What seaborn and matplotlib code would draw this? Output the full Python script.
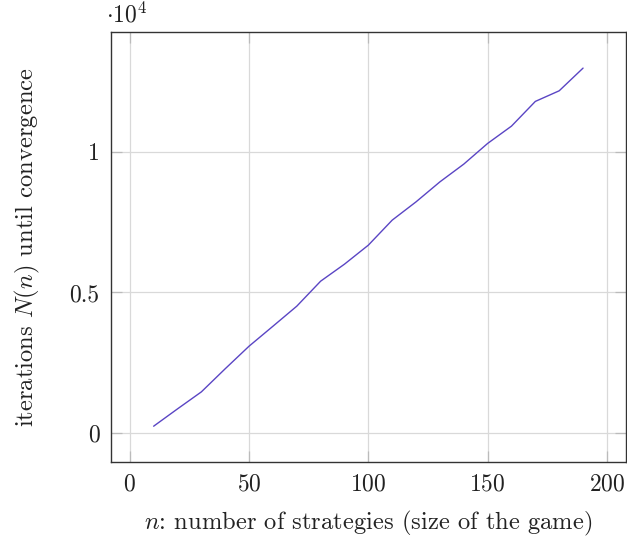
import numpy as np
import pandas as pd
import seaborn as sns
import matplotlib.pyplot as plt
from matplotlib.ticker import FixedLocator, FuncFormatter

# values
n_values = [10, 20, 30, 40, 50, 60, 70, 80, 90, 100,
            110, 120, 130, 140, 150, 160, 170, 180, 190]
iterations = [249, 864, 1468, 2290, 3092, 3800, 4513, 5401, 6006, 6681,
              7570, 8220, 8930, 9560, 10295, 10910, 11788, 12165, 12971]
x_ticks = [0, 50, 100, 150, 200]
y_ticks = [0, 5000, 10000]
y_tick_labels = ["0", "0.5", "1"]

sns.set_style("whitegrid")
plt.rcParams["font.family"] = ["serif"]
plt.rcParams["font.serif"] = ["cmr10", "DejaVu Serif"]
plt.rcParams["mathtext.fontset"] = "cm"
plt.rcParams["axes.formatter.use_mathtext"] = True

FS = 17
LABEL_FS = 17.7


def _format_ax(ax):
  ax.set_xlim(-8, 208)
  ax.set_ylim(-1023, 14243)
  ax.xaxis.set_major_locator(FixedLocator(x_ticks))
  ax.yaxis.set_major_locator(FixedLocator(y_ticks))
  ax.yaxis.set_major_formatter(FuncFormatter(lambda v, p: y_tick_labels[y_ticks.index(int(round(v)))] if int(round(v)) in y_ticks else ""))
  ax.grid(True, color="#d9d9d9", linewidth=0.9)
  for s in ax.spines.values():
    s.set_color("#333333")
    s.set_linewidth(1.0)
  ax.tick_params(axis="both", which="major", direction="in", length=8, width=0.9,
                 color="#bbbbbb", labelsize=FS, labelcolor="#222222",
                 top=True, right=True, bottom=True, left=True)
  ax.tick_params(axis="x", pad=8)
  ax.tick_params(axis="y", pad=8)
  return ax


def main():
  data = pd.DataFrame({"n": n_values, "N": iterations})

  fig = plt.figure(figsize=(6.27, 5.39), dpi=100)
  ax = fig.add_axes([110.7 / 627, 1 - 462 / 539, (626 - 110.7) / 627, (462 - 32.3) / 539])
  sns.lineplot(data=data, x="n", y="N", ax=ax, color="#5a45c4", linewidth=1.0)
  _format_ax(ax)

  ax.set_xlabel("$n$: number of strategies (size of the game)", fontsize=LABEL_FS, color="#222222", labelpad=10)
  ax.set_ylabel("iterations $N(n)$ until convergence", fontsize=LABEL_FS, color="#222222", labelpad=20)
  ax.text(-0.01, 1.012, r"$\cdot 10^{4}$", transform=ax.transAxes, fontsize=FS,
          ha="left", va="bottom", color="#222222")

  plt.savefig("out.png", dpi=100)


if __name__ == "__main__":
  main()
